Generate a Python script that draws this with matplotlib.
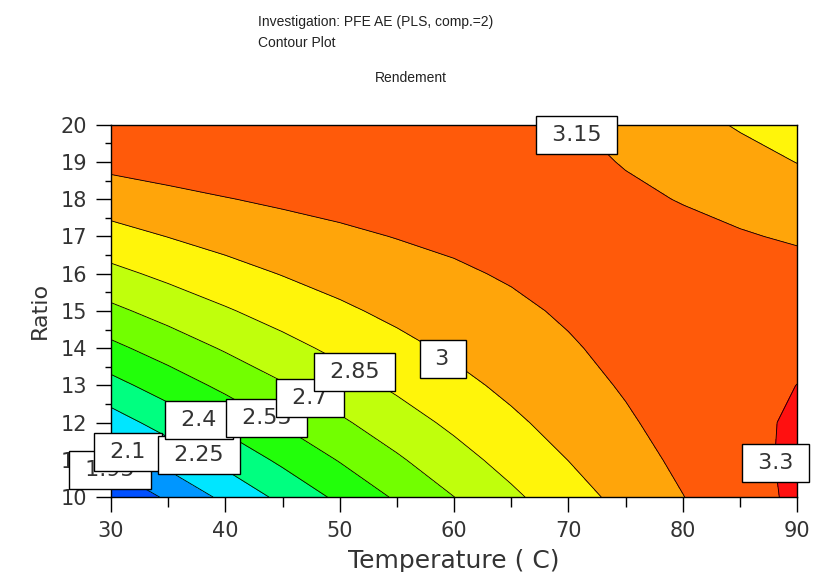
import numpy as np
import matplotlib
matplotlib.use("Agg")
import matplotlib.pyplot as plt
from matplotlib.colors import ListedColormap, BoundaryNorm

# Rendement grid, Temperature along columns, Ratio along rows
temperature = [30, 35, 40, 45, 50, 55, 60, 65, 70, 75, 80, 85, 90]
ratio = [10, 11, 12, 13, 14, 15, 16, 17, 18, 19, 20]
rendement = [
    [1.808, 1.975, 2.134, 2.286, 2.431, 2.569, 2.699, 2.822, 2.938, 3.046, 3.147, 3.241, 3.327],
    [1.999, 2.150, 2.293, 2.430, 2.559, 2.681, 2.795, 2.902, 3.002, 3.094, 3.180, 3.257, 3.328],
    [2.180, 2.315, 2.443, 2.564, 2.677, 2.783, 2.881, 2.973, 3.057, 3.133, 3.203, 3.265, 3.319],
    [2.352, 2.472, 2.584, 2.688, 2.786, 2.876, 2.958, 3.034, 3.102, 3.163, 3.216, 3.263, 3.301],
    [2.515, 2.618, 2.715, 2.804, 2.885, 2.959, 3.026, 3.086, 3.138, 3.183, 3.221, 3.251, 3.274],
    [2.668, 2.756, 2.836, 2.909, 2.975, 3.034, 3.085, 3.128, 3.165, 3.194, 3.216, 3.230, 3.237],
    [2.812, 2.884, 2.949, 3.006, 3.056, 3.098, 3.134, 3.162, 3.182, 3.195, 3.201, 3.200, 3.191],
    [2.947, 3.003, 3.052, 3.093, 3.127, 3.154, 3.173, 3.185, 3.190, 3.188, 3.178, 3.160, 3.136],
    [3.073, 3.113, 3.145, 3.171, 3.189, 3.200, 3.204, 3.200, 3.189, 3.170, 3.145, 3.112, 3.071],
    [3.189, 3.213, 3.230, 3.239, 3.242, 3.237, 3.225, 3.205, 3.178, 3.144, 3.102, 3.053, 2.997],
    [3.285, 3.292, 3.294, 3.293, 3.285, 3.264, 3.236, 3.201, 3.158, 3.108, 3.051, 2.986, 2.914],
]
levels = [1.95, 2.1, 2.25, 2.4, 2.55, 2.7, 2.85, 3.0, 3.15, 3.3]

band_colors = ["#0050ff", "#0096ff", "#00e6ff", "#00ff80", "#22ff0a",
               "#72ff00", "#c0ff0c", "#fff50a", "#ffa50a", "#ff5a0a", "#ff1010"]

# where each level's boxed label sits (data coords)
label_pos = [(29.9, 10.73), (31.5, 11.21), (37.7, 11.12), (37.7, 12.07),
             (43.6, 12.12), (47.4, 12.66), (51.3, 13.36), (59.0, 13.71),
             (70.7, 19.73), (88.1, 10.91)]

T, R = np.meshgrid(temperature, ratio)
Z = np.array(rendement)

fig = plt.figure(figsize=(8.16, 5.72), dpi=100)
ax = fig.add_axes([0.136, 0.131, 0.841, 0.651])

bounds = [1.5] + levels + [3.6]
cmap = ListedColormap(band_colors)
norm = BoundaryNorm(bounds, cmap.N)
ax.contourf(T, R, Z, levels=bounds, cmap=cmap, norm=norm)
ax.contour(T, R, Z, levels=levels, colors="k", linewidths=0.6)

# later (higher) labels sit on top of the earlier ones
box = dict(boxstyle="square,pad=0.4", facecolor="white", edgecolor="black", linewidth=1.0)
for i, (lev, (lx, ly)) in enumerate(zip(levels, label_pos)):
    ax.text(lx, ly, f" {lev:g} ", ha="center", va="center", fontsize=16,
            color="#333333", bbox=box, zorder=5 + i, clip_on=False)

ax.set_xlim(30, 90)
ax.set_ylim(10, 20)
ax.set_xticks(np.arange(30, 91, 10))
ax.set_xticks(np.arange(35, 90, 10), minor=True)
ax.set_yticks(np.arange(10, 21, 1))
ax.set_yticks(np.arange(10.5, 20, 1), minor=True)
ax.tick_params(axis="both", which="major", direction="out", length=11, width=1,
               labelsize=15, pad=6, labelcolor="#333333")
ax.tick_params(axis="x", which="minor", direction="out", length=7, width=1)
ax.tick_params(axis="y", which="minor", direction="out", length=4, width=1)
for s in ax.spines.values():
    s.set_linewidth(1.0)

ax.set_xlabel("Temperature ( C)", fontsize=18, color="#333333", labelpad=6)
ax.set_ylabel("Ratio", fontsize=16, color="#333333", labelpad=8)

fig.text(0.316, 0.962, "Investigation: PFE AE (PLS, comp.=2)", fontsize=10,
         family="Liberation Sans", va="center", color="#222222")
fig.text(0.316, 0.925, "Contour Plot", fontsize=10, family="Liberation Sans",
         va="center", color="#222222")
fig.text(0.504, 0.864, "Rendement", fontsize=10, family="Liberation Sans",
         ha="center", va="center", color="#222222")

fig.savefig("out.png", dpi=100)
